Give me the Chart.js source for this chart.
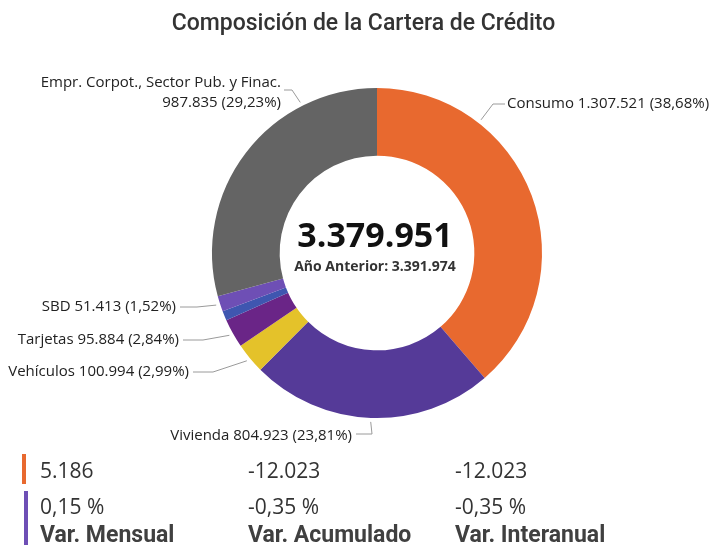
<!DOCTYPE html>
<html>
<head>
<meta charset="utf-8">
<script src="https://cdn.jsdelivr.net/npm/chart.js@4"></script>
<style>
  body { margin: 0; background: #fff; width: 727px; height: 545px; overflow: hidden; position: relative; font-family: "Open Sans", sans-serif; }
  #title { position: absolute; left: 0; width: 727px; top: 9px; text-align: center; font-family: Roboto, sans-serif; font-weight: 500; font-size: 23px; color: #333; }
  #wrap { position: absolute; left: 0; top: 0; width: 727px; height: 545px; }
  .bar { position: absolute; left: 22px; width: 4px; }
  .cell { position: absolute; font-size: 21px; color: #333; line-height: 28px; }
  .head { position: absolute; font-family: Roboto, sans-serif; font-weight: bold; font-size: 23px; color: #404040; line-height: 28px; }
</style>
</head>
<body>
<div id="wrap"><canvas id="canvas" width="727" height="545"></canvas></div>
<div id="title">Composición de la Cartera de Crédito</div>
<div id="table"></div>
<script>
var categories = ['Consumo', 'Vivienda', 'Vehículos', 'Tarjetas', 'Otros', 'SBD', 'Empr. Corpot., Sector Pub. y Finac.'];
var values = [1307521, 804923, 100994, 95884, 31381, 51413, 987835];
var percents = ['38,68%', '23,81%', '2,99%', '2,84%', '', '1,52%', '29,23%'];
var valueLabels = ['1.307.521', '804.923', '100.994', '95.884', '', '51.413', '987.835'];
var colors = ['#E8692F', '#553A98', '#E4C22A', '#6A2587', '#3F56B0', '#6E4FB5', '#646464'];

var totalLabel = '3.379.951';
var previousLabel = 'Año Anterior: 3.391.974';

var varHeaders = ['Var. Mensual', 'Var. Acumulado', 'Var. Interanual'];
var varAbsolute = ['5.186', '-12.023', '-12.023'];
var varPercent = ['0,15 %', '-0,35 %', '-0,35 %'];

// leader line layout per slice: anchor angle (deg, null = mid), elbow, text anchor
var labelLayout = [
    { angle: 38, elbow: [493, 104], end: [505, 104], tx: 507, ty: 104, align: 'left' },
    { angle: null, elbow: [372, 434], end: [356, 434], tx: 352, ty: 436, align: 'right' },
    { angle: null, elbow: [213, 372], end: [193, 372], tx: 189, ty: 372, align: 'right' },
    { angle: null, elbow: [203, 340], end: [183, 340], tx: 179, ty: 340, align: 'right' },
    null,
    { angle: null, elbow: [197, 307], end: [180, 307], tx: 176, ty: 307, align: 'right' },
    { angle: 333, elbow: [292, 90], end: [284, 90], tx: 281, ty: 103, align: 'right', top: 'Empr. Corpot., Sector Pub. y Finac.', topY: 83 }
];

var labelsPlugin = {
    id: 'labels',
    afterDraw: function (chart) {
        var ctx = chart.ctx;
        var meta = chart.getDatasetMeta(0);
        ctx.save();
        ctx.strokeStyle = '#9a9a9a';
        ctx.lineWidth = 1;
        ctx.fillStyle = '#222';
        ctx.font = '15px "Open Sans"';
        ctx.textBaseline = 'middle';
        for (var i = 0; i < meta.data.length; i++) {
            var L = labelLayout[i];
            if (!L) continue;
            var arc = meta.data[i];
            var a;
            if (L.angle === null) a = (arc.startAngle + arc.endAngle) / 2;
            else a = L.angle * Math.PI / 180 - Math.PI / 2;
            var r = arc.outerRadius + 4;
            var sx = arc.x + Math.cos(a) * r;
            var sy = arc.y + Math.sin(a) * r;
            ctx.beginPath();
            ctx.moveTo(sx, sy);
            ctx.lineTo(L.elbow[0], L.elbow[1]);
            ctx.lineTo(L.end[0], L.end[1]);
            ctx.stroke();
            ctx.textAlign = L.align;
            var txt = (L.top ? '' : categories[i] + ' ') + valueLabels[i] + ' (' + percents[i] + ')';
            ctx.fillText(txt, L.tx, L.ty);
            if (L.top) ctx.fillText(L.top, L.tx, L.topY);
        }
        // center text
        var cx = meta.data[0].x, cy = meta.data[0].y;
        ctx.textAlign = 'center';
        ctx.fillStyle = '#111';
        ctx.font = 'bold 34px "Open Sans"';
        ctx.fillText(totalLabel, cx - 2, cy - 16);
        ctx.fillStyle = '#333';
        ctx.font = 'bold 14px "Open Sans"';
        ctx.fillText(previousLabel, cx - 2, cy + 14);
        ctx.restore();
    }
};

new Chart('canvas', {
    type: 'doughnut',
    data: {
        labels: categories,
        datasets: [{
            data: values,
            backgroundColor: colors,
            borderWidth: 0
        }]
    },
    options: {
        responsive: false,
        animation: false,
        cutout: '59%',
        layout: { padding: { left: 208, right: 181, top: 88, bottom: 127 } },
        plugins: {
            legend: { display: false },
            tooltip: { enabled: false }
        }
    },
    plugins: [labelsPlugin]
});

// bottom table
var table = document.getElementById('table');
var html = '<div class="bar" style="top:454px;height:30px;background:#E8692F"></div>' +
    '<div class="bar" style="top:491px;height:54px;left:24px;background:#6E4FB5"></div>';
var colX = [40, 248, 455];
for (var i = 0; i < 3; i++) {
    html += '<div class="cell" style="left:' + colX[i] + 'px;top:456px">' + varAbsolute[i] + '</div>';
    html += '<div class="cell" style="left:' + colX[i] + 'px;top:492px">' + varPercent[i] + '</div>';
    html += '<div class="head" style="left:' + colX[i] + 'px;top:521px">' + varHeaders[i] + '</div>';
}
table.innerHTML = html;
</script>
</body>
</html>
